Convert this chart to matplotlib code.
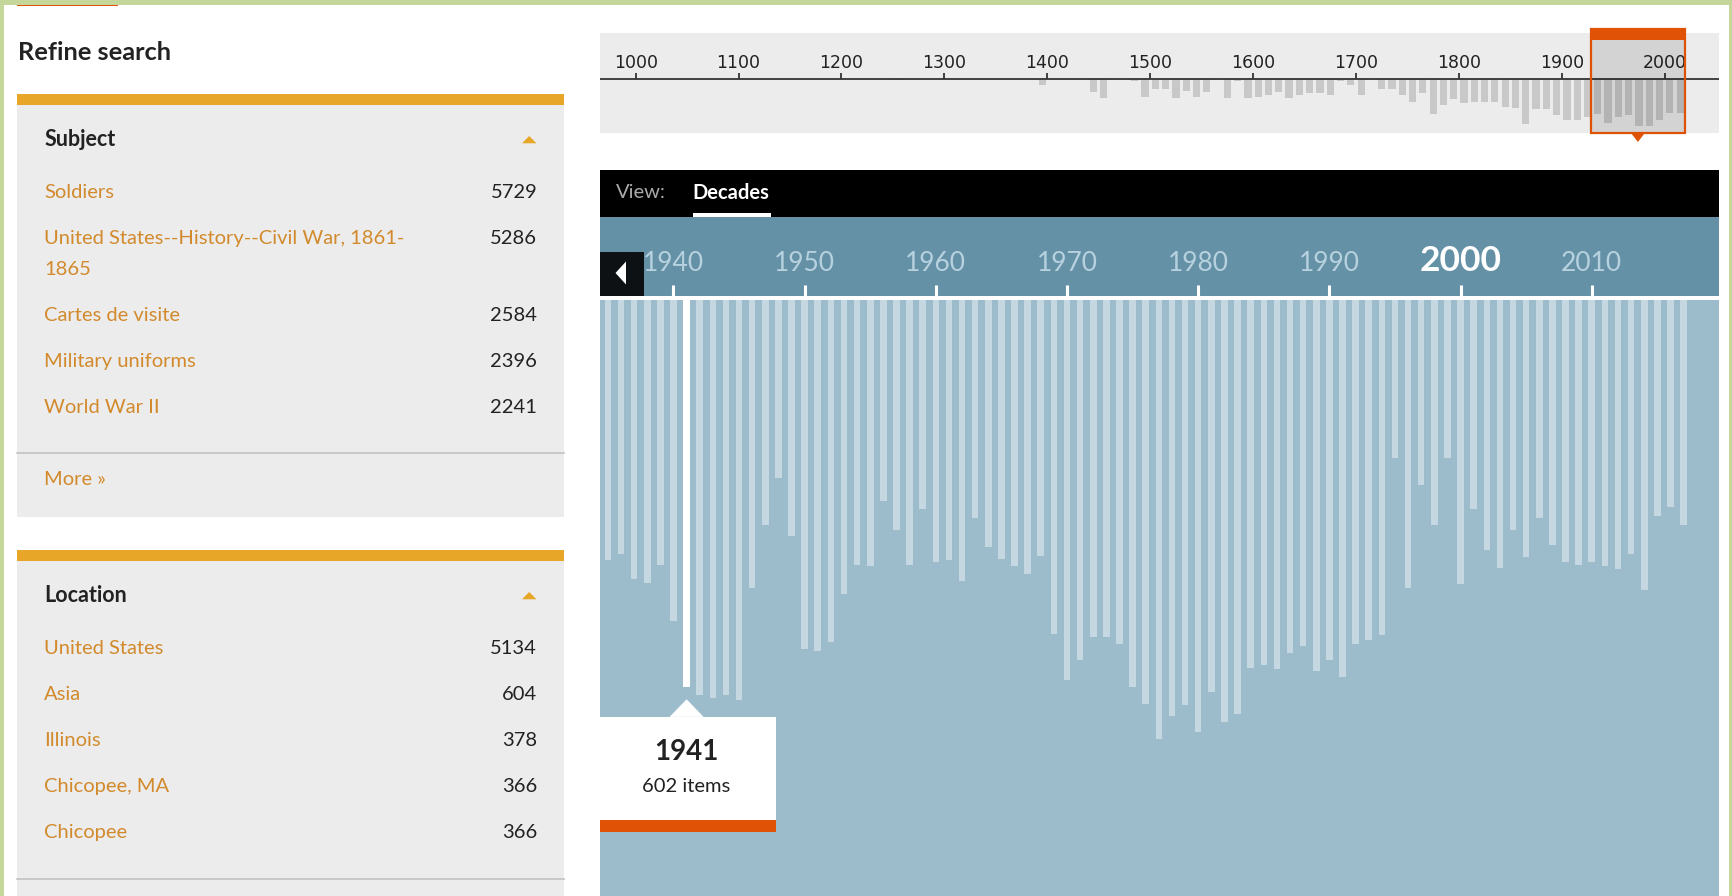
import matplotlib.pyplot as plt
from matplotlib import transforms
from matplotlib.patches import Rectangle, Polygon

W, H = 1733, 896

# yearly item counts shown in the zoomed decade view
years = list(range(1935, 2018))
items = [404, 395, 434, 439, 411, 498, 602, 613, 618, 613,
         622, 448, 349, 276, 367, 542, 545, 531, 457, 411,
         413, 312, 358, 411, 324, 407, 404, 436, 338, 383,
         402, 413, 425, 397, 519, 590, 560, 523, 523, 535,
         602, 627, 682, 646, 630, 671, 609, 655, 643, 572,
         567, 574, 549, 537, 576, 560, 585, 535, 528, 521,
         246, 448, 287, 349, 246, 441, 324, 388, 416, 358,
         399, 338, 381, 407, 411, 407, 413, 418, 395, 450,
         335, 322, 349]
highlight_year = 1941

# overview timeline: items per decade
decades = [1250, 1390, 1440, 1450, 1480, 1490, 1500, 1510, 1520, 1530, 1540, 1550,
           1570, 1580, 1590, 1600, 1610, 1620, 1630, 1640, 1650, 1660, 1670, 1680,
           1690, 1700, 1720, 1730, 1740, 1750, 1760, 1770, 1780, 1790, 1800, 1810,
           1820, 1830, 1840, 1850, 1860, 1870, 1880, 1890, 1900, 1910, 1920, 1930,
           1940, 1950, 1960, 1970, 1980, 1990, 2000, 2010]
decade_items = [130, 670, 1610, 2370, 250, 2200, 1270, 1270, 2370, 1440, 2200, 1610,
                2370, 250, 2370, 2200, 2030, 1610, 2370, 2030, 1780, 1780, 2030, 250,
                670, 2030, 1180, 1180, 1940, 2880, 1690, 4410, 3300, 2540, 3050, 2880,
                2880, 2880, 3470, 3640, 5680, 3810, 3810, 4570, 5170, 5170, 4740, 4410,
                5500, 4740, 4570, 5930, 5930, 5170, 4230, 4230]
centuries = list(range(1000, 2001, 100))
decade_ticks = list(range(1940, 2020, 10))
sel_start, sel_end = 1928, 2020

subject_terms = ["Soldiers", "United States--History--Civil War, 1861-\n1865",
                 "Cartes de visite", "Military uniforms", "World War II"]
subject_counts = [5729, 5286, 2584, 2396, 2241]
location_terms = ["United States", "Asia", "Illinois", "Chicopee, MA", "Chicopee"]
location_counts = [5134, 604, 378, 366, 366]

ORANGE = '#e8a628'
LINK = '#d28a2c'
RED = '#e05206'
PANEL = '#ececec'
FONT = 'Lato'

fig = plt.figure(figsize=(W / 100, H / 100), dpi=100)
fig.patch.set_facecolor('white')

canvas = fig.add_axes([0, 0, 1, 1], zorder=0)
canvas.set_xlim(0, W)
canvas.set_ylim(H, 0)
canvas.axis('off')


def box(x0, y0, x1, y1, color, z=1):
    canvas.add_patch(Rectangle((x0, y0), x1 - x0, y1 - y0, fc=color, ec='none', zorder=z))


# page frame
box(0, 0, W, 4.7, '#c5d69b', 5)
box(0, 0, 4.4, H, '#c5d69b', 5)
box(W - 4, 0, W, H, '#c5d69b', 5)
box(16.6, 4.7, 118.4, 6.3, RED, 5)

canvas.text(18.5, 52.7, "Refine search", fontsize=18.3, weight='bold', color='#222222',
            family=FONT, va='center')


def facet(title, terms, counts, top, more=True):
    box(16.6, top, 564, top + 11.3, ORANGE)
    box(16.6, top + 11.3, 564, top + 423, PANEL)
    canvas.text(44.4, top + 45, title, fontsize=15.5, weight='bold', color='#222222',
                family=FONT, va='center')
    canvas.add_patch(Polygon([(522, top + 49.3), (536.5, top + 49.3), (529.2, top + 42)],
                             fc=ORANGE, ec='none', zorder=3))
    y = top + 98.7
    for term, n in zip(terms, counts):
        canvas.text(537.2, y, str(n), fontsize=14.5, color='#222222', family=FONT,
                    ha='right', va='center')
        for line in term.split('\n'):
            canvas.text(44.4, y, line, fontsize=14.5, color=LINK, family=FONT, va='center')
            y += 30.6
        y += 46 - 30.6
    canvas.plot([16.6, 564], [y, y], color='#c2c2c2', lw=1.2, zorder=3)
    if more:
        canvas.text(44.4, y + 26, "More \u00bb", fontsize=14.5, color=LINK, family=FONT,
                    va='center')


facet("Subject", subject_terms, subject_counts, 94)
facet("Location", location_terms, location_counts, 550, more=False)

# ---- overview timeline ----
ov = fig.add_axes([600 / W, (H - 133.3) / H, 1119 / W, (133.3 - 32.7) / H], zorder=1)
ov.set_facecolor(PANEL)
ov.set_xlim(965.3, 2052.8)
ov.set_ylim(-6858, 5918)
for s in ov.spines.values():
    s.set_visible(False)
ov.set_xticks([])
ov.set_yticks([])
ov.bar([d + 5 for d in decades], [-v for v in decade_items], width=7, color='#c8c8c8',
       zorder=1)
ov.axhline(0, color='#333333', lw=1.3, zorder=2)
ov_bl = transforms.blended_transform_factory(ov.transData, canvas.transData)
ov.vlines(centuries, 72.7, 79.3, colors='#333333', lw=1.3, transform=ov_bl, zorder=2)
for c in centuries:
    ov.text(c, 63.3, str(c), transform=ov_bl, ha='center', va='center', fontsize=12.5,
            color='#222222', family='DejaVu Sans')
ov.add_patch(Rectangle((sel_start, 28.7), sel_end - sel_start, 133.3 - 28.7,
                       transform=ov_bl, fc=(0, 0, 0, 0.1), ec=RED, lw=1.6,
                       clip_on=False, zorder=3))
ov.add_patch(Rectangle((sel_start, 28.7), sel_end - sel_start, 11.3, transform=ov_bl,
                       fc=RED, ec='none', clip_on=False, zorder=4))
mid = (sel_start + sel_end) / 2
ov.add_patch(Polygon([(mid - 6.5, 133.3), (mid + 6.5, 133.3), (mid, 142)],
                     transform=ov_bl, fc=RED, ec='none', clip_on=False, zorder=4))

# ---- decade view ----
ax = fig.add_axes([600 / W, 0, 1119 / W, (H - 300) / H], zorder=1)
ax.set_facecolor('#9dbccb')
ax.set_xlim(1934.4, 2019.7)
ax.set_ylim(926, 0)
for s in ax.spines.values():
    s.set_visible(False)
ax.set_xticks([])
ax.set_yticks([])
colors = ['white' if y == highlight_year else '#c5d8e2' for y in years]
ax.bar(years, items, width=0.5, color=colors, zorder=1)

bl = transforms.blended_transform_factory(ax.transData, canvas.transData)

# header and scale band
box(600, 170, 1719, 217, 'black')
canvas.text(616, 193, "View:", fontsize=14.5, color='#aaaaaa', family=FONT, va='center')
canvas.text(692.6, 193, "Decades", fontsize=14.5, weight='bold', color='white',
            family=FONT, va='center')
box(692.6, 213, 771, 217, 'white', 2)
box(600, 217, 1719, 296, '#6591a7')
canvas.vlines(decade_ticks, 285.3, 296, colors='white', lw=2.2, transform=bl, zorder=2)
for d in decade_ticks:
    if d % 100 == 0:
        canvas.text(d, 261, str(d), transform=bl, ha='center', va='center', fontsize=25.5,
                    weight='bold', color='white', family=FONT, zorder=2)
    else:
        canvas.text(d, 263.3, str(d), transform=bl, ha='center', va='center',
                    fontsize=19, color='#b7d1de', family=FONT, zorder=2)
box(600, 251.7, 643.6, 296, '#0d1114', 3)
canvas.add_patch(Polygon([(615.5, 273), (626, 261.5), (626, 284.5)], fc='white',
                         ec='none', zorder=4))

# tooltip for highlighted year
n_hl = items[years.index(highlight_year)]
ax.add_patch(Rectangle((highlight_year - 6.8, 716.7), 13.6, 103.3, transform=bl,
                       fc='white', ec='none', zorder=5))
ax.add_patch(Rectangle((highlight_year - 6.8, 820), 13.6, 12, transform=bl,
                       fc=RED, ec='none', zorder=5))
ax.add_patch(Polygon([(highlight_year - 1.3, 716.9), (highlight_year + 1.3, 716.9),
                      (highlight_year, 699.3)], transform=bl, fc='white', ec='none',
                     zorder=5))
ax.text(highlight_year, 751.7, str(highlight_year), transform=bl, ha='center',
        va='center', fontsize=20, weight='bold', color='#222222', family=FONT, zorder=6)
ax.text(highlight_year, 786.7, f"{n_hl} items", transform=bl, ha='center', va='center',
        fontsize=14.5, color='#222222', family=FONT, zorder=6)

fig.savefig('out.png', dpi=100)
